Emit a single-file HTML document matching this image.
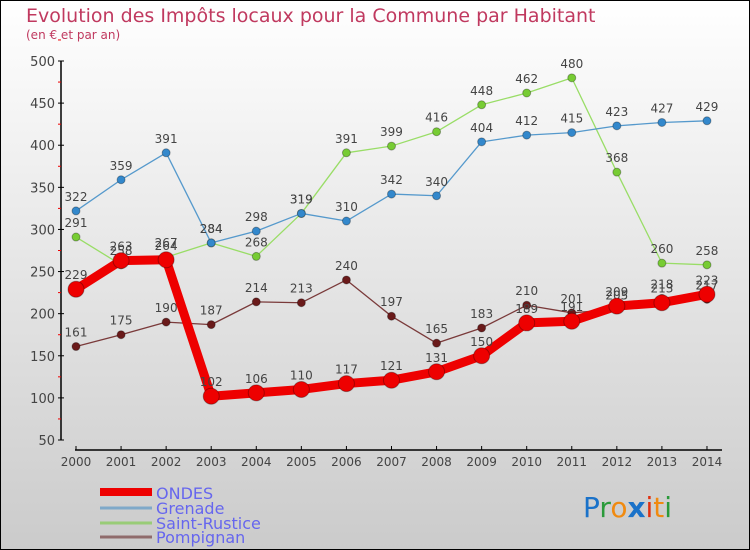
<!DOCTYPE html>
<html><head><meta charset="utf-8"><style>
body{margin:0;width:750px;height:550px;overflow:hidden}
svg{display:block;font-family:"DejaVu Sans","Liberation Sans",sans-serif}
</style></head><body>
<svg id="c" width="750" height="550">
<defs><linearGradient id="bg" x1="0" y1="0" x2="0" y2="1"><stop offset="0" stop-color="#ffffff"/><stop offset="1" stop-color="#cbcbcb"/></linearGradient></defs>
<rect x="0.5" y="0.5" width="749" height="549" fill="url(#bg)" stroke="#000"/>
<text x="26" y="22" font-size="19" fill="#c0395f">Evolution des Impôts locaux pour la Commune par Habitant</text>
<text x="26" y="39" font-size="12" fill="#c0395f">(en € et par an)</text>
<g id="axes"></g><g id="series"></g>
<g>
<line x1="100" y1="492" x2="152" y2="492" stroke="#ee0000" stroke-width="8"/>
<text x="156" y="499" font-size="16" fill="#6666ee">ONDES</text>
<line x1="100" y1="508" x2="152" y2="508" stroke="#7fa9c9" stroke-width="3"/>
<text x="156" y="514" font-size="16" fill="#6666ee">Grenade</text>
<line x1="100" y1="523" x2="152" y2="523" stroke="#99cc77" stroke-width="3"/>
<text x="156" y="529" font-size="16" fill="#6666ee">Saint-Rustice</text>
<line x1="100" y1="537" x2="152" y2="537" stroke="#8f6b6b" stroke-width="3"/>
<text x="156" y="543" font-size="16" fill="#6666ee">Pompignan</text>
</g>
<g font-size="28" font-family="'DejaVu Sans',sans-serif">
<text x="583" y="517"><tspan fill="#1a72c9">P</tspan><tspan fill="#2a9a3a">r</tspan><tspan fill="#f08a10">o</tspan><tspan fill="#1a72c9" font-weight="bold">x</tspan><tspan fill="#e03010">i</tspan><tspan fill="#f08a10">t</tspan><tspan fill="#2a9a3a">i</tspan></text>
</g>
</svg>
<script>
const years=[2000,2001,2002,2003,2004,2005,2006,2007,2008,2009,2010,2011,2012,2013,2014];
const ondes=[229,263,264,102,106,110,117,121,131,150,189,191,209,213,223];
const grenade=[322,359,391,284,298,319,310,342,340,404,412,415,423,427,429];
const saintRustice=[291,258,267,284,268,319,391,399,416,448,462,480,368,260,258];
const pompignan=[161,175,190,187,214,213,240,197,165,183,210,201,205,218,217];
const yTicks=[50,100,150,200,250,300,350,400,450,500];
const NS="http://www.w3.org/2000/svg";
const X=i=>76+i*45.07;
const Y=v=>61+(500-v)*379/450;
function mk(t,a,p){const e=document.createElementNS(NS,t);for(const k in a)e.setAttribute(k,a[k]);p.appendChild(e);return e;}
const ax=document.getElementById('axes');
let yl=mk('line',{x1:61,y1:Y(500),x2:61,y2:Y(50),stroke:'#000','stroke-width':1.5},ax);


yTicks.forEach(v=>{
 mk('line',{x1:58,y1:Y(v),x2:64,y2:Y(v),stroke:'#000'},ax);
 mk('line',{x1:58,y1:Y(v+25),x2:61,y2:Y(v+25),stroke:'#e00'},ax);
 const t=mk('text',{x:55,y:Y(v)+5,'text-anchor':'end','font-size':13,fill:'#444'},ax);t.textContent=v;
 
 
});
let xl=mk('line',{x1:75,y1:450,x2:722,y2:450,stroke:'#000','stroke-width':1.5},ax);


years.forEach((y,i)=>{
 mk('line',{x1:X(i),y1:446,x2:X(i),y2:450,stroke:'#000'},ax);
 const t=mk('text',{x:X(i),y:466,'text-anchor':'middle','font-size':12,fill:'#444'},ax);t.textContent=y;
 
 
});
const sg=document.getElementById('series');
function draw(vals,name,col,dot,w,r){
 const g=mk('g',{},sg);
 
 
 const pl=mk('polyline',{points:vals.map((v,i)=>X(i)+','+Y(v)).join(' '),fill:'none',stroke:col,'stroke-width':w,'stroke-linejoin':'round'},g);
 
 
 vals.forEach((v,i)=>{
  const c=mk('circle',{cx:X(i),cy:Y(v),r:r,fill:dot,stroke:'rgba(0,0,0,0.3)'},g);
  
  
  const t=mk('text',{x:X(i),y:Y(v)-10,'text-anchor':'middle','font-size':12,fill:'#444'},g);t.textContent=v;
  
  
 });
}
draw(pompignan,'pompignan','#7a3a3a','#6a1a1a',1.3,4);
draw(saintRustice,'saint-rustice','#99dd66','#77cc33',1.3,4);
draw(grenade,'grenade','#5599cc','#3388cc',1.3,4);
draw(ondes,'ondes','#ee0000','#ee0000',9,8);
</script>
</body></html>
